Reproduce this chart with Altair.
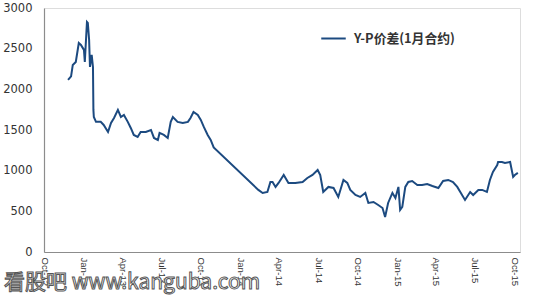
import altair as alt
import pandas as pd

dates = [
    "2012-11-26", "2012-12-03", "2012-12-07", "2012-12-14", "2012-12-21", "2012-12-26",
    "2013-01-02", "2013-01-04", "2013-01-09", "2013-01-11", "2013-01-14", "2013-01-16",
    "2013-01-20", "2013-01-23", "2013-01-24", "2013-01-25", "2013-01-30", "2013-02-10",
    "2013-02-17", "2013-02-27", "2013-03-06", "2013-03-13", "2013-03-22", "2013-03-29",
    "2013-04-05", "2013-04-14", "2013-04-21", "2013-04-28", "2013-05-07", "2013-05-14",
    "2013-05-26", "2013-06-07", "2013-06-14", "2013-06-23", "2013-06-27", "2013-07-07",
    "2013-07-16", "2013-07-23", "2013-07-28", "2013-08-08", "2013-08-20", "2013-09-01",
    "2013-09-07", "2013-09-14", "2013-09-24", "2013-10-01", "2013-10-08", "2013-10-17",
    "2013-10-24", "2013-10-31", "2014-02-12", "2014-02-22", "2014-03-05", "2014-03-12",
    "2014-03-17", "2014-03-24", "2014-03-31", "2014-04-12", "2014-04-23", "2014-05-09",
    "2014-05-26", "2014-06-06", "2014-06-18", "2014-06-30", "2014-07-06", "2014-07-13",
    "2014-07-25", "2014-08-06", "2014-08-17", "2014-08-29", "2014-09-07", "2014-09-14",
    "2014-09-26", "2014-10-07", "2014-10-19", "2014-10-26", "2014-11-07", "2014-11-18",
    "2014-11-28", "2014-12-04", "2014-12-11", "2014-12-21", "2014-12-28", "2015-01-04",
    "2015-01-08", "2015-01-13", "2015-01-20", "2015-01-27", "2015-02-05", "2015-02-17",
    "2015-02-28", "2015-03-12", "2015-03-24", "2015-04-07", "2015-04-18", "2015-04-30",
    "2015-05-11", "2015-05-21", "2015-05-28", "2015-06-08", "2015-06-20", "2015-06-27",
    "2015-07-09", "2015-07-18", "2015-07-29", "2015-08-05", "2015-08-12", "2015-08-22",
    "2015-08-24", "2015-09-02", "2015-09-09", "2015-09-21", "2015-09-28", "2015-10-02",
    "2015-10-09",
]
spread = [
    2116, 2160, 2300, 2337, 2570, 2546,
    2485, 2337, 2829, 2817, 2608, 2275,
    2423, 2275, 1747, 1660, 1600, 1600,
    1562, 1476, 1587, 1648, 1747, 1660,
    1685, 1600, 1525, 1439, 1415, 1476,
    1476, 1500, 1402, 1378, 1464, 1439,
    1402, 1600, 1660, 1600, 1587, 1600,
    1648, 1722, 1685, 1624, 1538, 1439,
    1378, 1285, 763, 726, 738, 861,
    861, 800, 849, 947, 849, 849,
    861, 910, 947, 1009, 947, 738,
    800, 787, 677, 886, 849, 763,
    701, 677, 726, 603, 615, 578,
    541, 431, 603, 726, 664, 800,
    517, 554, 800, 861, 873, 824,
    824, 836, 812, 787, 873, 886,
    861, 800, 738, 640, 738, 701,
    763, 763, 738, 886, 984, 1070,
    1107, 1107, 1095, 1107, 923, 947,
    972,
]
series_name = "Y-P价差(1月合约)"
tick_dates = [
    "2012-10-01", "2013-01-01", "2013-04-01", "2013-07-01", "2013-10-01",
    "2014-01-01", "2014-04-01", "2014-07-01", "2014-10-01", "2015-01-01",
    "2015-04-01", "2015-07-01", "2015-10-01",
]
y_ticks = [0, 500, 1000, 1500, 2000, 2500, 3000]
watermark = "看股吧 www.kanguba.com"

df = pd.DataFrame({"date": pd.to_datetime(dates), "value": spread, "series": series_name})

x_axis = alt.Axis(
    values=[pd.Timestamp(d).isoformat() for d in tick_dates],
    format="%b-%y", labelAngle=90, labelAlign="left", labelBaseline="middle",
    ticks=False, grid=False, domainColor="#8c8c8c", domainWidth=1.2,
    labelFont="Liberation Sans", labelFontSize=9.5, labelColor="#333333",
    labelPadding=5, title=None, labelOverlap=False,
)
y_axis = alt.Axis(
    values=y_ticks, format="d", ticks=False, grid=False, domainColor="#8c8c8c",
    domainWidth=1.2, labelFont="DejaVu Sans", labelFontSize=11.5,
    labelColor="#333333", labelPadding=12, title=None,
)

line = alt.Chart(df).mark_line(strokeWidth=2, interpolate="linear").encode(
    x=alt.X("date:T", axis=x_axis,
            scale=alt.Scale(domain=[pd.Timestamp("2012-10-01").isoformat(),
                                    pd.Timestamp("2015-10-14").isoformat()])),
    y=alt.Y("value:Q", axis=y_axis, scale=alt.Scale(domain=[0, 3000], nice=False)),
    color=alt.Color("series:N", scale=alt.Scale(range=["#1c4a80"]),
                    legend=alt.Legend(
                        title=None, orient="none", legendX=276, legendY=17,
                        symbolType="stroke", symbolStrokeWidth=2, symbolSize=600,
                        labelOffset=7,
                        labelFont="Noto Sans CJK SC", labelFontSize=12.8,
                        labelFontWeight="bold", labelColor="#333333",
                    )),
)

wm = alt.Chart(pd.DataFrame({"t": [watermark]})).mark_text(
    align="left", baseline="middle", font="Noto Sans CJK SC", fontSize=21,
    fill="#ffffff", stroke="#555555", strokeWidth=1,
).encode(text="t:N", x=alt.value(-40), y=alt.value(275))

chart = alt.layer(line, wm).properties(
    width=476, height=244,
    autosize=alt.AutoSizeParams(type="none"),
    padding={"left": 44, "top": 8, "right": 30, "bottom": 48},
).configure_view(stroke=None).configure(background="#ffffff")

chart.save("out.html", embed_options={"renderer": "svg", "actions": False})
